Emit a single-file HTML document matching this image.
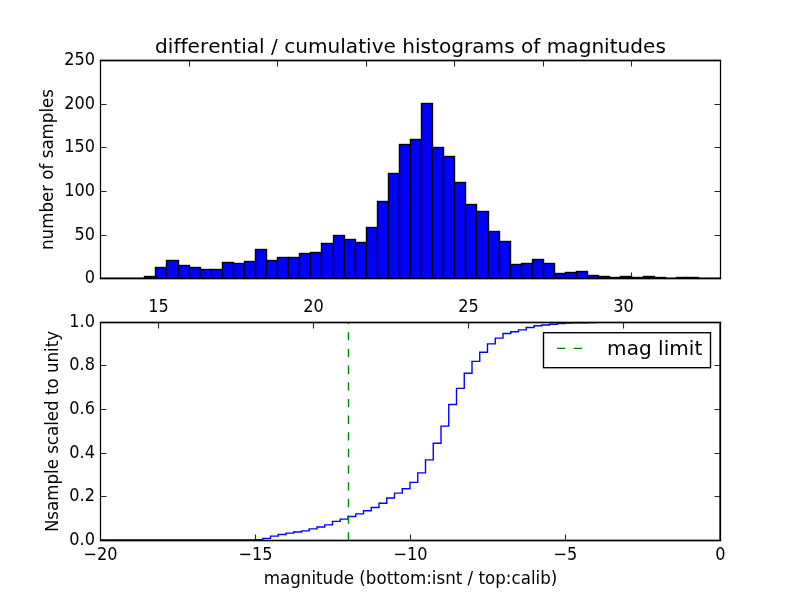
<!DOCTYPE html><html><head><meta charset="utf-8"><title>histograms</title><style>html,body{margin:0;padding:0;background:#fff;overflow:hidden}svg{display:block}text{font-family:"DejaVu Sans","Liberation Sans",sans-serif;fill:#000;font-variant-ligatures:none;font-feature-settings:"liga" 0,"clig" 0;font-kerning:none}</style></head><body>
<svg width="800" height="600" viewBox="0 0 800 600">
<rect width="800" height="600" fill="#fff"/>
<clipPath id="c1"><rect x="100" y="60" width="621" height="218.9"/></clipPath>
<g clip-path="url(#c1)" fill="#0000ff" stroke="#000" stroke-width="1.39" stroke-linejoin="miter">
<rect x="144.50" y="276.50" width="11.00" height="2.00"/>
<rect x="155.50" y="267.50" width="11.00" height="11.00"/>
<rect x="166.50" y="260.50" width="12.00" height="18.00"/>
<rect x="178.50" y="265.50" width="11.00" height="13.00"/>
<rect x="189.50" y="267.50" width="11.00" height="11.00"/>
<rect x="200.50" y="269.50" width="11.00" height="9.00"/>
<rect x="211.50" y="269.50" width="11.00" height="9.00"/>
<rect x="222.50" y="262.50" width="11.00" height="16.00"/>
<rect x="233.50" y="263.50" width="11.00" height="15.00"/>
<rect x="244.50" y="261.50" width="11.00" height="17.00"/>
<rect x="255.50" y="249.50" width="11.00" height="29.00"/>
<rect x="266.50" y="260.50" width="11.00" height="18.00"/>
<rect x="277.50" y="257.50" width="11.00" height="21.00"/>
<rect x="288.50" y="257.50" width="11.00" height="21.00"/>
<rect x="299.50" y="253.50" width="11.00" height="25.00"/>
<rect x="310.50" y="252.50" width="11.00" height="26.00"/>
<rect x="321.50" y="243.50" width="12.00" height="35.00"/>
<rect x="333.50" y="235.50" width="11.00" height="43.00"/>
<rect x="344.50" y="239.50" width="11.00" height="39.00"/>
<rect x="355.50" y="242.50" width="11.00" height="36.00"/>
<rect x="366.50" y="227.50" width="11.00" height="51.00"/>
<rect x="377.50" y="201.50" width="11.00" height="77.00"/>
<rect x="388.50" y="173.50" width="11.00" height="105.00"/>
<rect x="399.50" y="144.50" width="11.00" height="134.00"/>
<rect x="410.50" y="139.50" width="11.00" height="139.00"/>
<rect x="421.50" y="103.50" width="11.00" height="175.00"/>
<rect x="432.50" y="147.50" width="11.00" height="131.00"/>
<rect x="443.50" y="156.50" width="11.00" height="122.00"/>
<rect x="454.50" y="182.50" width="11.00" height="96.00"/>
<rect x="465.50" y="204.50" width="11.00" height="74.00"/>
<rect x="476.50" y="211.50" width="12.00" height="67.00"/>
<rect x="488.50" y="231.50" width="11.00" height="47.00"/>
<rect x="499.50" y="241.50" width="11.00" height="37.00"/>
<rect x="510.50" y="264.50" width="11.00" height="14.00"/>
<rect x="521.50" y="263.50" width="11.00" height="15.00"/>
<rect x="532.50" y="259.50" width="11.00" height="19.00"/>
<rect x="543.50" y="263.50" width="11.00" height="15.00"/>
<rect x="554.50" y="273.50" width="11.00" height="5.00"/>
<rect x="565.50" y="272.50" width="11.00" height="6.00"/>
<rect x="576.50" y="271.50" width="11.00" height="7.00"/>
<rect x="587.50" y="275.50" width="11.00" height="3.00"/>
<rect x="598.50" y="276.50" width="11.00" height="2.00"/>
<rect x="609.50" y="277.50" width="11.00" height="1.00"/>
<rect x="620.50" y="276.50" width="11.00" height="2.00"/>
<rect x="631.50" y="277.50" width="12.00" height="1.00"/>
<rect x="643.50" y="276.50" width="11.00" height="2.00"/>
<rect x="654.50" y="277.50" width="11.00" height="1.00"/>
<rect x="665.50" y="278.50" width="11.00" height="0.00"/>
<rect x="676.50" y="277.50" width="11.00" height="1.00"/>
<rect x="687.50" y="277.50" width="11.00" height="1.00"/>
</g>
<g stroke="#000" stroke-opacity="0.85" stroke-width="1.1" fill="none">
<path d="M189.50 60.50v6.00M189.50 278.50v-6.00"/>
<path d="M277.50 60.50v6.00M277.50 278.50v-6.00"/>
<path d="M366.50 60.50v6.00M366.50 278.50v-6.00"/>
<path d="M454.50 60.50v6.00M454.50 278.50v-6.00"/>
<path d="M543.50 60.50v6.00M543.50 278.50v-6.00"/>
<path d="M631.50 60.50v6.00M631.50 278.50v-6.00"/>
<path d="M100.50 235.50h6.00M720.50 235.50h-6.00"/>
<path d="M100.50 191.50h6.00M720.50 191.50h-6.00"/>
<path d="M100.50 147.50h6.00M720.50 147.50h-6.00"/>
<path d="M100.50 104.50h6.00M720.50 104.50h-6.00"/>
</g>
<g stroke="#000" fill="none"><rect x="100.50" y="60.50" width="620.00" height="218.00" stroke-width="1.25"/><path d="M99.88 60.50H721.12" stroke-width="1.45"/><path d="M99.88 278.35H721.12" stroke-width="1.8"/></g>
<text transform="translate(95.00,282.70) scale(0.9670,1.0700)" font-size="16.67" text-anchor="end">0</text>
<text transform="translate(95.00,239.70) scale(0.9670,1.0700)" font-size="16.67" text-anchor="end">50</text>
<text transform="translate(95.00,195.70) scale(0.9670,1.0700)" font-size="16.67" text-anchor="end">100</text>
<text transform="translate(95.00,151.70) scale(0.9670,1.0700)" font-size="16.67" text-anchor="end">150</text>
<text transform="translate(95.00,108.70) scale(0.9670,1.0700)" font-size="16.67" text-anchor="end">200</text>
<text transform="translate(95.00,64.70) scale(0.9670,1.0700)" font-size="16.67" text-anchor="end">250</text>
<text transform="translate(410.50,53.40) scale(1.0050,0.9720)" font-size="20.00" text-anchor="middle">differential / cumulative histograms of magnitudes</text>
<text transform="translate(53.40,169.50) rotate(-90) scale(1.0000,1.0700)" font-size="16.67" text-anchor="middle">number of samples</text>
<clipPath id="c2"><rect x="100" y="322" width="620" height="218"/></clipPath>
<polyline clip-path="url(#c2)" fill="none" stroke="#0000ff" stroke-width="1.39" points="100.00,540.00 255.00,540.00 255.00,539.78 262.75,539.78 262.75,538.38 270.50,538.38 270.50,536.12 278.25,536.12 278.25,534.50 286.00,534.50 286.00,533.10 293.75,533.10 293.75,532.02 301.50,532.02 301.50,530.84 309.25,530.84 309.25,528.90 317.00,528.90 317.00,527.06 324.75,527.06 324.75,524.91 332.50,524.91 332.50,521.35 340.25,521.35 340.25,519.09 348.00,519.09 348.00,516.50 355.75,516.50 355.75,513.91 363.50,513.91 363.50,510.79 371.25,510.79 371.25,507.55 379.00,507.55 379.00,503.24 386.75,503.24 386.75,497.96 394.50,497.96 394.50,493.11 402.25,493.11 402.25,488.69 410.00,488.69 410.00,482.33 417.75,482.33 417.75,472.84 425.50,472.84 425.50,459.91 433.25,459.91 433.25,443.31 441.00,443.31 441.00,426.17 448.75,426.17 448.75,404.50 456.50,404.50 456.50,388.33 464.25,388.33 464.25,373.24 472.00,373.24 472.00,361.38 479.75,361.38 479.75,352.22 487.50,352.22 487.50,343.92 495.25,343.92 495.25,338.10 503.00,338.10 503.00,333.46 510.75,333.46 510.75,331.74 518.50,331.74 518.50,329.90 526.25,329.90 526.25,327.53 534.00,327.53 534.00,325.70 541.75,325.70 541.75,325.05 549.50,325.05 549.50,324.30 557.25,324.30 557.25,323.44 565.00,323.44 565.00,323.01 572.75,323.01 572.75,322.79 580.50,322.79 580.50,322.68 588.25,322.68 588.25,322.47 596.00,322.47 596.00,322.36 603.75,322.36 603.75,322.14 611.50,322.14 611.50,322.04 619.25,322.04 619.25,322.04 627.00,322.04 627.00,321.93 634.75,321.93 634.75,321.82 642.50,321.82 720.00,321.82 720.00,540.00"/>
<line clip-path="url(#c2)" x1="348.50" y1="540.50" x2="348.50" y2="322.50" stroke="#008000" stroke-width="1.39" stroke-dasharray="8.33 8.33"/>
<g stroke="#000" stroke-opacity="0.85" stroke-width="1.1" fill="none">
<path d="M255.50 540.50v-6.00"/>
<path d="M410.50 540.50v-6.00"/>
<path d="M565.50 540.50v-6.00"/>
<path d="M158.50 322.50v6.00"/>
<path d="M313.50 322.50v6.00"/>
<path d="M468.50 322.50v6.00"/>
<path d="M623.50 322.50v6.00"/>
<path d="M100.50 496.50h6.00M720.50 496.50h-6.00"/>
<path d="M100.50 453.50h6.00M720.50 453.50h-6.00"/>
<path d="M100.50 409.50h6.00M720.50 409.50h-6.00"/>
<path d="M100.50 365.50h6.00M720.50 365.50h-6.00"/>
</g>
<g stroke="#000" fill="none"><rect x="100.50" y="322.50" width="620.00" height="218.00" stroke-width="1.25"/><path d="M99.88 322.50H721.12M99.88 540.50H721.12" stroke-width="1.4"/></g>
<text transform="translate(95.00,544.70) scale(0.9670,1.0700)" font-size="16.67" text-anchor="end">0.0</text>
<text transform="translate(95.00,500.70) scale(0.9670,1.0700)" font-size="16.67" text-anchor="end">0.2</text>
<text transform="translate(95.00,457.70) scale(0.9670,1.0700)" font-size="16.67" text-anchor="end">0.4</text>
<text transform="translate(95.00,413.70) scale(0.9670,1.0700)" font-size="16.67" text-anchor="end">0.6</text>
<text transform="translate(95.00,369.70) scale(0.9670,1.0700)" font-size="16.67" text-anchor="end">0.8</text>
<text transform="translate(95.00,326.70) scale(0.9670,1.0700)" font-size="16.67" text-anchor="end">1.0</text>
<text transform="translate(100.50,559.50) scale(0.9670,1.0700)" font-size="16.67" text-anchor="middle">−20</text>
<text transform="translate(255.50,559.50) scale(0.9670,1.0700)" font-size="16.67" text-anchor="middle">−15</text>
<text transform="translate(410.50,559.50) scale(0.9670,1.0700)" font-size="16.67" text-anchor="middle">−10</text>
<text transform="translate(565.50,559.50) scale(0.9670,1.0700)" font-size="16.67" text-anchor="middle">−5</text>
<text transform="translate(720.50,559.50) scale(0.9670,1.0700)" font-size="16.67" text-anchor="middle">0</text>
<text transform="translate(158.50,311.50) scale(0.9670,1.0700)" font-size="16.67" text-anchor="middle">15</text>
<text transform="translate(313.50,311.50) scale(0.9670,1.0700)" font-size="16.67" text-anchor="middle">20</text>
<text transform="translate(468.50,311.50) scale(0.9670,1.0700)" font-size="16.67" text-anchor="middle">25</text>
<text transform="translate(623.50,311.50) scale(0.9670,1.0700)" font-size="16.67" text-anchor="middle">30</text>
<text transform="translate(410.50,584.00) scale(1.0020,1.0700)" font-size="16.67" text-anchor="middle">magnitude (bottom:isnt / top:calib)</text>
<text transform="translate(58.10,431.50) rotate(-90) scale(1.0000,1.0700)" font-size="16.67" text-anchor="middle">Nsample scaled to unity</text>
<rect x="543.5" y="332.7" width="167" height="35" fill="#fff" stroke="#000" stroke-width="1.39"/>
<line x1="557" y1="348.4" x2="585" y2="348.4" stroke="#008000" stroke-width="1.39" stroke-dasharray="8.33 8.33"/>
<text transform="translate(607.10,355.30) scale(1.0050,0.9660)" font-size="20.00" text-anchor="start">mag limit</text>
</svg></body></html>
